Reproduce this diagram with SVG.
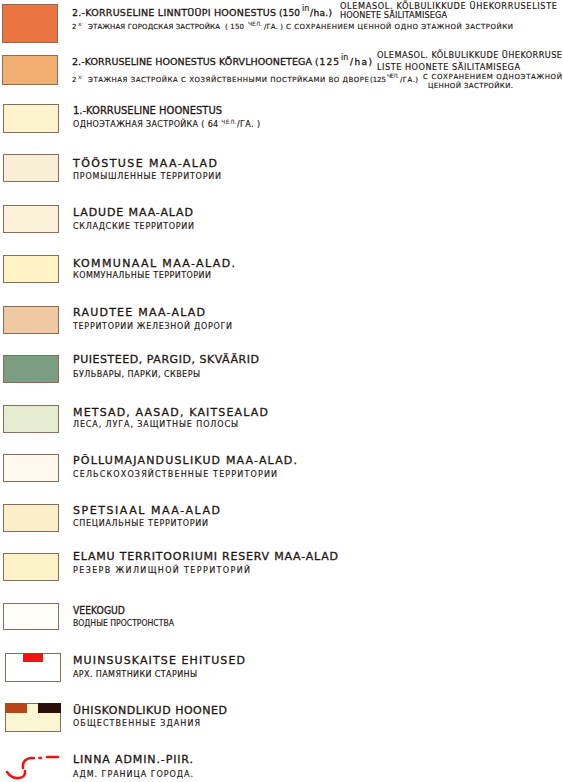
<svg xmlns="http://www.w3.org/2000/svg" width="563" height="782" viewBox="0 0 563 782">
<style>
.sw{stroke:#8a6a58;stroke-width:1}
.t{font-family:"DejaVu Sans","Liberation Sans",sans-serif;font-size:11px;fill:#1e1410;stroke:#1e1410;stroke-width:0.3}
.r{font-family:"DejaVu Sans","Liberation Sans",sans-serif;font-size:8px;fill:#1e1410;stroke:#1e1410;stroke-width:0.15}
.h{font-size:9.5px}
.p{font-size:9px}
.n{font-family:"DejaVu Sans","Liberation Sans",sans-serif;font-size:8.2px;fill:#1e1410;stroke:#1e1410;stroke-width:0.15}
.s{font-size:7px}
.sup{font-size:6px;stroke-width:0}
.red{fill:none;stroke:#ee1414;stroke-width:2.6;stroke-linecap:round}
</style>
<rect width="563" height="782" fill="#ffffff"/>

<g id="row1">
<rect class="sw" x="2.5" y="4.5" width="55" height="38" fill="#ea7440"/>
<text class="t h" x="72" y="16" textLength="204" lengthAdjust="spacing">2.-KORRUSELINE LINNTÜÜPI HOONESTUS</text>
<text class="t p" x="279" y="16" textLength="21" lengthAdjust="spacing">(150</text>
<text class="r" x="302" y="11" font-size="7" stroke-width="0">in</text>
<text class="t p" x="310" y="16" textLength="22" lengthAdjust="spacing">/ha.)</text>
<text class="n" x="340" y="9" textLength="217" lengthAdjust="spacing">OLEMASOL. KÕLBULIKKUDE ÜHEKORRUSELISTE</text>
<text class="n" x="340" y="18" textLength="107" lengthAdjust="spacing">HOONETE SÄILITAMISEGA</text>
<text class="r s" x="72" y="29">2</text>
<text class="r sup" x="78" y="26">х·</text>
<text class="r s" x="88" y="29" textLength="132" lengthAdjust="spacing">ЭТАЖНАЯ ГОРОДСКАЯ ЗАСТРОЙКА</text>
<text class="r s" x="225" y="29" textLength="19" lengthAdjust="spacing">( 150</text>
<text class="r sup" x="248" y="26" font-size="5.5" textLength="14" lengthAdjust="spacing">ЧЕЛ.</text>
<text class="r s" x="264" y="29" textLength="19" lengthAdjust="spacing">/ГА. )</text>
<text class="r s" x="286" y="29" textLength="227" lengthAdjust="spacing">С СОХРАНЕНИЕМ ЦЕННОЙ ОДНО ЭТАЖНОЙ ЗАСТРОЙКИ</text>
</g>

<g id="row2">
<rect class="sw" x="2.5" y="55.5" width="55" height="29" fill="#f1b071"/>
<text class="t h" x="72" y="65" textLength="240" lengthAdjust="spacing">2.-KORRUSELINE HOONESTUS KÕRVLHOONETEGA</text>
<text class="t p" x="315" y="65" textLength="24" lengthAdjust="spacing">(125</text>
<text class="r" x="341" y="60" font-size="7" stroke-width="0">in</text>
<text class="t p" x="350" y="65" textLength="22" lengthAdjust="spacing">/ha)</text>
<text class="n" x="377" y="58" textLength="185" lengthAdjust="spacing">OLEMASOL. KÕLBULIKKUDE ÜHEKORRUSE</text>
<text class="n" x="377" y="70" textLength="143" lengthAdjust="spacing">LISTE HOONETE SÄILITAMISEGA</text>
<text class="r s" x="72" y="82">2</text>
<text class="r sup" x="78" y="79">х·</text>
<text class="r s" x="88" y="82" textLength="281" lengthAdjust="spacing">ЭТАЖНАЯ ЗАСТРОЙКА С ХОЗЯЙСТВЕННЫМИ ПОСТРЙКАМИ ВО ДВОРЕ</text>
<text class="r s" x="370" y="82" font-size="6.8" textLength="16" lengthAdjust="spacing">(125</text>
<text class="r sup" x="387" y="78" font-size="5" textLength="12" lengthAdjust="spacing">ЧЕЛ.</text>
<text class="r s" x="400" y="82" textLength="18" lengthAdjust="spacing">/ГА.)</text>
<text class="r s" x="423" y="79" textLength="139" lengthAdjust="spacing">С СОХРАНЕНИЕМ ОДНОЭТАЖНОЙ</text>
<text class="r s" x="428" y="88" textLength="85" lengthAdjust="spacing">ЦЕННОЙ ЗАСТРОЙКИ.</text>
</g>

<g id="row3">
<rect class="sw" x="3.5" y="104.5" width="55" height="28" fill="#fdf3cf"/>
<text class="t" x="73" y="114" textLength="149" lengthAdjust="spacingAndGlyphs">1.-KORRUSELINE HOONESTUS</text>
<text class="r" x="73" y="127" textLength="187" lengthAdjust="spacing">ОДНОЭТАЖНАЯ ЗАСТРОЙКА ( 64 <tspan class="sup" dy="-3">ЧЕЛ.</tspan><tspan dy="3">/ГА. )</tspan></text>
</g>

<g id="row4">
<rect class="sw" x="3.5" y="154.5" width="55" height="27" fill="#f9efd6"/>
<text class="t" x="73" y="167" textLength="144" lengthAdjust="spacing">TÖÖSTUSE MAA-ALAD</text>
<text class="r" x="73" y="179" textLength="148" lengthAdjust="spacing">ПРОМЫШЛЕННЫЕ ТЕРРИТОРИИ</text>
</g>

<g id="row5">
<rect class="sw" x="3.5" y="205.5" width="55" height="27" fill="#fcf1d9"/>
<text class="t" x="73" y="216" textLength="120" lengthAdjust="spacing">LADUDE MAA-ALAD</text>
<text class="r" x="73" y="229" textLength="121" lengthAdjust="spacing">СКЛАДСКИЕ ТЕРРИТОРИИ</text>
</g>

<g id="row6">
<rect class="sw" x="3.5" y="255.5" width="55" height="27" fill="#fef4c6"/>
<text class="t" x="73" y="267" textLength="162" lengthAdjust="spacing">KOMMUNAAL MAA-ALAD.</text>
<text class="r" x="73" y="278" textLength="138" lengthAdjust="spacing">КОММУНАЛЬНЫЕ ТЕРРИТОРИИ</text>
</g>

<g id="row7">
<rect class="sw" x="3.5" y="306.5" width="55" height="27" fill="#efc9a1"/>
<text class="t" x="73" y="316" textLength="132" lengthAdjust="spacing">RAUDTEE MAA-ALAD</text>
<text class="r" x="73" y="329" textLength="159" lengthAdjust="spacing">ТЕРРИТОРИИ ЖЕЛЕЗНОЙ ДОРОГИ</text>
</g>

<g id="row8">
<rect class="sw" x="3.5" y="355.5" width="55" height="27" fill="#7d9d83"/>
<text class="t" x="73" y="363" textLength="186" lengthAdjust="spacing">PUIESTEED, PARGID, SKVÄÄRID</text>
<text class="r" x="73" y="377" textLength="127" lengthAdjust="spacing">БУЛЬВАРЫ, ПАРКИ, СКВЕРЫ</text>
</g>

<g id="row9">
<rect class="sw" x="3.5" y="405.5" width="55" height="27" fill="#e5ecd0"/>
<text class="t" x="73" y="416" textLength="195" lengthAdjust="spacing">METSAD, AASAD, KAITSEALAD</text>
<text class="r" x="73" y="427" textLength="165" lengthAdjust="spacing">ЛЕСА, ЛУГА, ЗАЩИТНЫЕ ПОЛОСЫ</text>
</g>

<g id="row10">
<rect class="sw" x="3.5" y="454.5" width="55" height="27" fill="#fef9ec"/>
<text class="t" x="73" y="464" textLength="224" lengthAdjust="spacing">PÕLLUMAJANDUSLIKUD MAA-ALAD.</text>
<text class="r" x="73" y="477" textLength="204" lengthAdjust="spacing">СЕЛЬСКОХОЗЯЙСТВЕННЫЕ ТЕРРИТОРИИ</text>
</g>

<g id="row11">
<rect class="sw" x="3.5" y="504.5" width="55" height="27" fill="#fbefc9"/>
<text class="t" x="73" y="514" textLength="147" lengthAdjust="spacing">SPETSIAAL MAA-ALAD</text>
<text class="r" x="73" y="526" textLength="135" lengthAdjust="spacing">СПЕЦИАЛЬНЫЕ ТЕРРИТОРИИ</text>
</g>

<g id="row12">
<rect class="sw" x="3.5" y="553.5" width="55" height="27" fill="#fcf2c8"/>
<text class="t" x="73" y="560" textLength="265" lengthAdjust="spacing">ELAMU TERRITOORIUMI RESERV MAA-ALAD</text>
<text class="r" x="73" y="573" textLength="177" lengthAdjust="spacing">РЕЗЕРВ ЖИЛИЩНОЙ ТЕРРИТОРИЙ</text>
</g>

<g id="row13">
<rect class="sw" x="3.5" y="603.5" width="55" height="26" fill="#fffef8"/>
<text class="t" x="73" y="614" textLength="52" lengthAdjust="spacingAndGlyphs">VEEKOGUD</text>
<text class="r" x="73" y="626" textLength="101" lengthAdjust="spacingAndGlyphs">ВОДНЫЕ ПРОСТРОНСТВА</text>
</g>

<g id="row14">
<rect class="sw" x="5.5" y="653.5" width="55" height="28" fill="#ffffff"/>
<rect x="23" y="653" width="20" height="9" fill="#f01515"/>
<text class="t" x="73" y="664" textLength="172" lengthAdjust="spacing">MUINSUSKAITSE EHITUSED</text>
<text class="r" x="73" y="677" textLength="124" lengthAdjust="spacing">АРХ. ПАМЯТНИКИ СТАРИНЫ</text>
</g>

<g id="row15">
<rect class="sw" x="5.5" y="703.5" width="55" height="28" fill="#fcf5d2"/>
<rect x="5" y="703" width="22" height="10" fill="#b84518"/>
<rect x="38" y="703" width="23" height="10" fill="#2a0e0a"/>
<text class="t" x="73" y="714" textLength="154" lengthAdjust="spacing">ÜHISKONDLIKUD HOONED</text>
<text class="r" x="73" y="726" textLength="127" lengthAdjust="spacing">ОБЩЕСТВЕННЫЕ ЗДАНИЯ</text>
</g>

<g id="row16">
<path class="red" d="M7,772 Q12,779 19,778 Q26,777 25,771"/>
<path class="red" d="M23,768 Q22,759 31,758 L34,758"/>
<path class="red" d="M39.5,758 L41,758"/>
<path class="red" d="M47,757 L58,757"/>
<text class="t" x="73" y="763" textLength="120" lengthAdjust="spacing">LINNA ADMIN.-PIIR.</text>
<text class="r" x="73" y="777" textLength="120" lengthAdjust="spacing">АДМ. ГРАНИЦА ГОРОДА.</text>
</g>
</svg>
